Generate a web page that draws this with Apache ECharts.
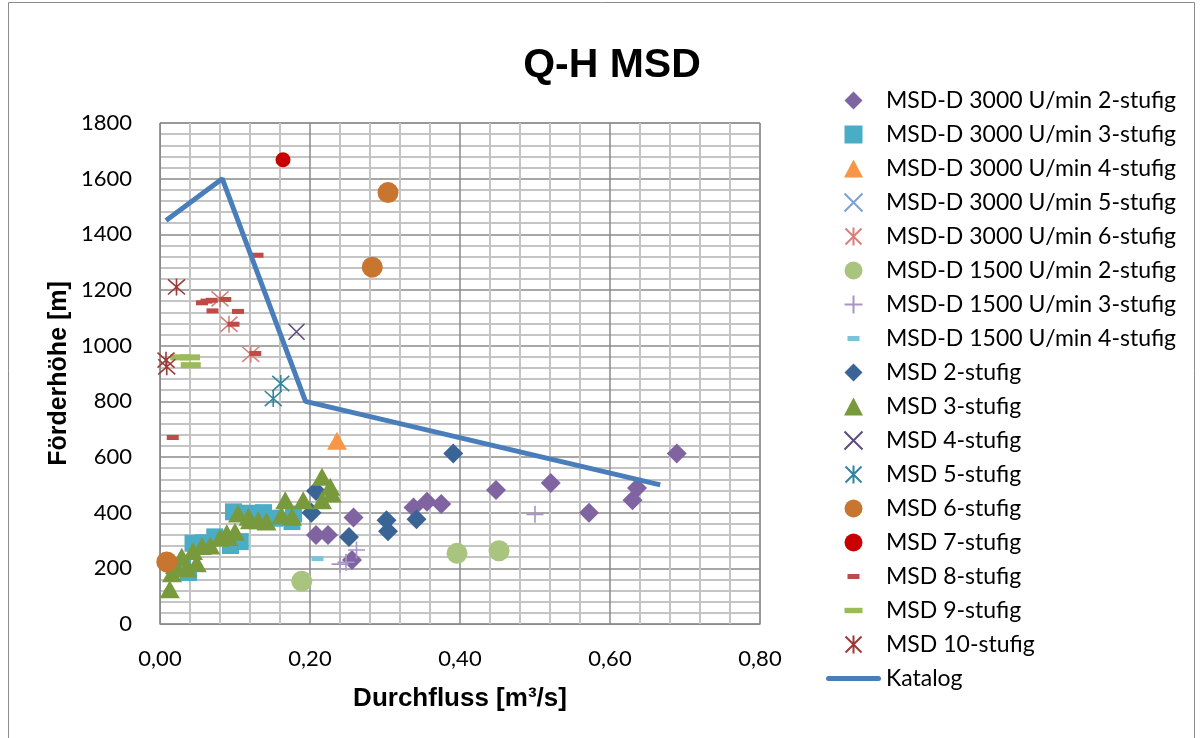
<!DOCTYPE html>
<html lang="de">

<head>
    <meta charset="UTF-8">
    <title>Q-H MSD</title>
    <style>
        html, body { margin: 0; padding: 0; background: #fff; }
        #qhChart { width: 1201px; height: 738px; }
    </style>
</head>

<body>
    <div id="qhChart"></div>
    <script src="https://cdn.jsdelivr.net/npm/echarts/dist/echarts.min.js"></script>
    <script>
        // Durchfluss [m3/s], Förderhöhe [m]
        var seriesNames = ['MSD-D 3000 U/min 2-stufig', 'MSD-D 3000 U/min 3-stufig', 'MSD-D 3000 U/min 4-stufig',
            'MSD-D 3000 U/min 5-stufig', 'MSD-D 3000 U/min 6-stufig', 'MSD-D 1500 U/min 2-stufig',
            'MSD-D 1500 U/min 3-stufig', 'MSD-D 1500 U/min 4-stufig', 'MSD 2-stufig', 'MSD 3-stufig',
            'MSD 4-stufig', 'MSD 5-stufig', 'MSD 6-stufig', 'MSD 7-stufig', 'MSD 8-stufig', 'MSD 9-stufig',
            'MSD 10-stufig', 'Katalog'];
        var d3000s2 = [[0.208, 320], [0.224, 320], [0.256, 230], [0.258, 383], [0.338, 419], [0.356, 439], [0.375, 431],
            [0.448, 481], [0.521, 507], [0.572, 400], [0.630, 445], [0.636, 489], [0.689, 613]];
        var d3000s3 = [[0.030, 205], [0.038, 185], [0.044, 290], [0.058, 292], [0.073, 313], [0.094, 282], [0.098, 403],
            [0.107, 296], [0.120, 398], [0.138, 400], [0.153, 380], [0.176, 368], [0.178, 395]];
        var d3000s4 = [[0.236, 658]];
        var d3000s5 = [];
        var d3000s6 = [[0.080, 1168], [0.092, 1077], [0.121, 969]];
        var d1500s2 = [[0.189, 154], [0.396, 254], [0.452, 263]];
        var d1500s3 = [[0.240, 215], [0.248, 222], [0.262, 266], [0.500, 394]];
        var d1500s4 = [[0.210, 235]];
        var msd2 = [[0.202, 400], [0.208, 478], [0.252, 313], [0.302, 373], [0.304, 333], [0.342, 376], [0.391, 613]];
        var msd3 = [[0.013, 125], [0.016, 182], [0.020, 212], [0.029, 242], [0.036, 200], [0.044, 262], [0.049, 218],
            [0.056, 280], [0.067, 282], [0.080, 310], [0.089, 326], [0.091, 313], [0.100, 331], [0.104, 397],
            [0.118, 385], [0.120, 373], [0.131, 373], [0.142, 368], [0.162, 391], [0.167, 445], [0.176, 385],
            [0.191, 445], [0.216, 445], [0.216, 529], [0.227, 493], [0.229, 469]];
        var msd4 = [[0.182, 1050]];
        var msd5 = [[0.151, 810], [0.161, 864]];
        var msd6 = [[0.009, 223], [0.283, 1282], [0.304, 1550]];
        var msd7 = [[0.164, 1668]];
        var msd8 = [[0.017, 670], [0.056, 1154], [0.062, 1160], [0.069, 1163], [0.087, 1166], [0.070, 1125],
            [0.104, 1123], [0.098, 1077], [0.127, 972], [0.130, 1325]];
        var msd9 = [[0.027, 958], [0.040, 958], [0.041, 930]];
        var msd10 = [[0.022, 1211], [0.008, 948], [0.009, 924]];
        var katalog = [[0.008, 1450], [0.083, 1600], [0.194, 800], [0.667, 500]];
        var xTicks = [0, 0.2, 0.4, 0.6, 0.8];
        var yTicks = [0, 200, 400, 600, 800, 1000, 1200, 1400, 1600, 1800];

        var SYM_X = 'path://M0,0L16,16M16,0L0,16';
        var SYM_STAR = 'path://M0,0L16,16M16,0L0,16M8,-1L8,17';
        var SYM_PLUS = 'path://M8,0L8,16M0,8L16,8';
        var SYM_DASH = 'path://M0,0M18,18M3,6.5h12v5h-12z';
        var SYM_LONGDASH = 'path://M0,0M20,20M0,7h20v6h-20z';
        // legend icons keep their own aspect, so plain shapes are given as paths
        var ICON_DIAMOND = 'path://M9,0L18,9L9,18L0,9z';
        var ICON_RECT = 'path://M0,0h17v17h-17z';
        var ICON_TRIANGLE = 'path://M9,0L18,17H0z';
        var ICON_BAR = 'path://M2.5,0h50a2.5,2.5 0 0 1 0,5h-50a2.5,2.5 0 0 1 0,-5z';
        var legendIcons = {
            0: ICON_DIAMOND, 1: ICON_RECT, 2: ICON_TRIANGLE, 8: ICON_DIAMOND, 9: ICON_TRIANGLE, 17: ICON_BAR
        };

        function dots(name, data, symbol, size, color) {
            return {
                name: name, type: 'scatter', data: data, symbol: symbol, symbolSize: size,
                itemStyle: { color: color, opacity: 1 }
            };
        }

        function strokes(name, data, symbol, size, color) {
            return {
                name: name, type: 'scatter', data: data, symbol: symbol, symbolSize: size,
                itemStyle: { color: color, borderColor: color, borderWidth: 1.6, opacity: 1 }
            };
        }

        var legendData = seriesNames.map(function(n, i) {
            var item = { name: n };
            if (legendIcons[i]) item.icon = legendIcons[i];
            if (i === 17) item.itemStyle = { color: '#4a7ebb', borderWidth: 0 };
            return item;
        });

        var chart = echarts.init(document.getElementById('qhChart'));
        var labelFont = 'Lato, "Open Sans", sans-serif';
        var boldFont = '"Liberation Sans", Arial, sans-serif';

        var option = {
            animation: false,
            backgroundColor: '#fff',
            title: {
                text: 'Q-H MSD', left: 607, top: 40, textAlign: 'center',
                textStyle: { fontFamily: boldFont, fontWeight: 'bold', fontSize: 41, color: '#000' }
            },
            graphic: [{
                type: 'rect', shape: { x: 8.5, y: 2.5, width: 1186, height: 740 },
                style: { fill: 'none', stroke: '#8c8c8c', lineWidth: 1 }, silent: true
            }],
            legend: {
                orient: 'vertical', left: 826, top: 89, padding: 0, itemWidth: 55, itemHeight: 18, itemGap: 11,
                symbolKeepAspect: true, data: legendData,
                textStyle: { fontFamily: labelFont, fontSize: 23, color: '#000' }
            },
            grid: {
                left: 160, right: 441, top: 123, bottom: 114, show: true,
                borderColor: '#8a8a8a', borderWidth: 1
            },
            xAxis: {
                type: 'value', min: xTicks[0], max: xTicks[xTicks.length - 1], interval: 0.2,
                name: 'Durchfluss [m³/s]', nameLocation: 'middle', nameGap: 62,
                nameTextStyle: { fontFamily: boldFont, fontWeight: 'bold', fontSize: 26, color: '#000' },
                axisLine: { lineStyle: { color: '#8a8a8a', width: 1 } },
                axisTick: { show: false },
                axisLabel: {
                    margin: 24, fontFamily: labelFont, fontSize: 22, color: '#000',
                    formatter: function(v) { return v.toFixed(2).replace('.', ','); }
                },
                splitLine: { show: true, lineStyle: { color: '#8a8a8a', width: 1.5 } },
                minorTick: { show: false, splitNumber: 5 },
                minorSplitLine: { show: true, lineStyle: { color: '#c4c4c4', width: 2 } }
            },
            yAxis: {
                type: 'value', min: yTicks[0], max: yTicks[yTicks.length - 1], interval: 200,
                name: 'Förderhöhe [m]', nameLocation: 'middle', nameGap: 88,
                nameTextStyle: { fontFamily: boldFont, fontWeight: 'bold', fontSize: 25, color: '#000' },
                axisLine: { show: true, lineStyle: { color: '#8a8a8a', width: 1 } },
                axisTick: { show: false },
                axisLabel: {
                    margin: 28, fontFamily: labelFont, fontSize: 22, color: '#000',
                    formatter: function(v) { return String(v); }
                },
                splitLine: { show: true, lineStyle: { color: '#8a8a8a', width: 1.5 } },
                minorTick: { show: false, splitNumber: 5 },
                minorSplitLine: { show: true, lineStyle: { color: '#c4c4c4', width: 2 } }
            },
            series: [
                dots(seriesNames[0], d3000s2, 'diamond', 20, '#8064a2'),
                dots(seriesNames[1], d3000s3, 'rect', 17, '#4bacc6'),
                dots(seriesNames[2], d3000s4, 'triangle', [20, 18], '#f79646'),
                strokes(seriesNames[3], d3000s5, SYM_X, 16, '#7ca0d6'),
                strokes(seriesNames[4], d3000s6, SYM_STAR, 17, '#d9807c'),
                dots(seriesNames[5], d1500s2, 'circle', 21, '#a9c47f'),
                strokes(seriesNames[6], d1500s3, SYM_PLUS, 17, '#a895c6'),
                dots(seriesNames[7], d1500s4, SYM_DASH, 18, '#7cc3d8'),
                dots(seriesNames[8], msd2, 'diamond', 20, '#3b6496'),
                dots(seriesNames[9], msd3, 'triangle', [20, 18], '#789a3d'),
                strokes(seriesNames[10], msd4, SYM_X, 16, '#604a7b'),
                strokes(seriesNames[11], msd5, SYM_STAR, 17, '#31859c'),
                dots(seriesNames[12], msd6, 'circle', 21, '#c8752f'),
                dots(seriesNames[13], msd7, 'circle', 15, '#c80000'),
                dots(seriesNames[14], msd8, SYM_DASH, 18, '#be4b48'),
                dots(seriesNames[15], msd9, SYM_LONGDASH, 20, '#9bbb59'),
                strokes(seriesNames[16], msd10, SYM_STAR, 17, '#9c3a37'),
                {
                    name: seriesNames[17], type: 'line', data: katalog, symbol: 'none',
                    lineStyle: { color: '#4a7ebb', width: 5 }, itemStyle: { color: '#4a7ebb' }
                }
            ]
        };
        chart.setOption(option);
    </script>
</body>

</html>
